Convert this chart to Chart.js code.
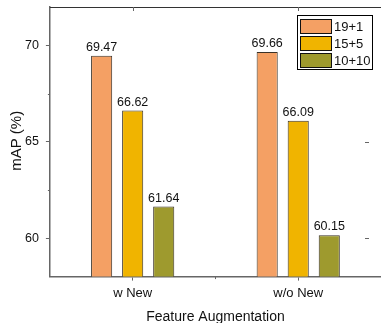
<!DOCTYPE html>
<html>
<head>
<meta charset="utf-8">
<script src="https://cdn.jsdelivr.net/npm/chart.js@4.4.0/dist/chart.umd.min.js"></script>
<style>
html,body{margin:0;padding:0;background:#fff;}
#wrap{width:381px;height:323px;position:relative;}
</style>
</head>
<body>
<div id="wrap"><canvas id="c" width="381" height="323"></canvas></div>
<script>
const categories = ['w New', 'w/o New'];
const seriesNames = ['19+1', '15+5', '10+10'];
const series19p1 = [69.47, 69.66];
const series15p5 = [66.62, 66.09];
const series10p10 = [61.64, 60.15];
const yTicks = [60, 65, 70];
const yMinorTicks = [62.5, 67.5];
const yTitle = 'mAP (%)';
const colors = ['#F4A064', '#F0B400', '#9E9A2E'];
const FONT = "'Liberation Sans', Arial, sans-serif";

const frame = {
  id: 'frame',
  afterDraw(chart) {
    const ctx = chart.ctx, a = chart.chartArea;
    const x = chart.scales.x, y = chart.scales.y;
    ctx.save();
    ctx.strokeStyle = '#333';
    ctx.lineWidth = 1.2;
    ctx.beginPath();
    ctx.moveTo(a.left, a.top + 0.5);
    ctx.lineTo(a.right, a.top + 0.5);
    ctx.stroke();
    ctx.strokeStyle = '#666';
    ctx.lineWidth = 1;
    ctx.beginPath();
    categories.forEach((c, i) => {
      const px = Math.round(x.getPixelForValue(i)) + 0.5;
      ctx.moveTo(px, a.top);
      ctx.lineTo(px, a.top + 4);
    });
    const mid = Math.round((x.getPixelForValue(0) + x.getPixelForValue(1)) / 2) + 0.5;
    ctx.moveTo(mid, a.bottom);
    ctx.lineTo(mid, a.bottom + 2.5);
    yMinorTicks.forEach(v => {
      const py = Math.round(y.getPixelForValue(v)) + 0.5;
      ctx.moveTo(a.left - 2, py);
      ctx.lineTo(a.left, py);
    });
    yTicks.forEach(v => {
      const py = Math.round(y.getPixelForValue(v)) + 0.5;
      ctx.moveTo(a.right - 16, py);
      ctx.lineTo(a.right - 12, py);
    });
    ctx.stroke();

    // y title
    ctx.save();
    ctx.translate(17, (a.top + a.bottom) / 2 - 1);
    ctx.rotate(-Math.PI / 2);
    ctx.fillStyle = '#111';
    ctx.font = '15px ' + FONT;
    ctx.textAlign = 'center';
    ctx.textBaseline = 'middle';
    ctx.fillText(yTitle, 0, 0);
    ctx.restore();

    ctx.fillStyle = '#111';
    ctx.font = '12.5px ' + FONT;
    ctx.textAlign = 'center';
    ctx.textBaseline = 'bottom';
    chart.data.datasets.forEach((ds, di) => {
      const meta = chart.getDatasetMeta(di);
      meta.data.forEach((bar, i) => {
        ctx.fillText(ds.data[i].toFixed(2), bar.x, bar.y - 2);
      });
    });

    const lx = 297, ly = 15, lw = 75, lh = 54;
    ctx.fillStyle = '#fff';
    ctx.fillRect(lx, ly, lw, lh);
    ctx.strokeStyle = '#000';
    ctx.lineWidth = 1;
    ctx.strokeRect(lx + 0.5, ly + 0.5, lw, lh);
    ctx.font = '13px ' + FONT;
    ctx.textAlign = 'left';
    ctx.textBaseline = 'middle';
    chart.data.datasets.forEach((ds, di) => {
      const ry = ly + 4 + di * 17;
      ctx.fillStyle = ds.backgroundColor;
      ctx.fillRect(lx + 3, ry, 31, 14);
      ctx.strokeStyle = '#111';
      ctx.strokeRect(lx + 3.5, ry + 0.5, 31, 14);
      ctx.fillStyle = '#111';
      ctx.fillText(ds.label, lx + 37, ry + 8);
    });
    ctx.restore();
  }
};

new Chart(document.getElementById('c'), {
  type: 'bar',
  data: {
    labels: categories,
    datasets: [
      { label: seriesNames[0], data: series19p1, backgroundColor: colors[0] },
      { label: seriesNames[1], data: series15p5, backgroundColor: colors[1] },
      { label: seriesNames[2], data: series10p10, backgroundColor: colors[2] }
    ].map(d => Object.assign(d, { borderColor: '#3a3228', borderWidth: 1, borderSkipped: false, categoryPercentage: 0.5625, barPercentage: 0.68 }))
  },
  options: {
    responsive: false,
    animation: false,
    devicePixelRatio: 1,
    layout: { padding: { top: 7, right: -4, left: 18, bottom: -3 } },
    plugins: { legend: { display: false }, tooltip: { enabled: false } },
    scales: {
      x: {
        offset: true,
        grid: { offset: false, drawOnChartArea: false, drawTicks: true, tickLength: 4, color: '#666' },
        border: { display: true, color: '#666', width: 1.5 },
        ticks: { color: '#111', font: { family: FONT, size: 13 }, padding: 5, maxRotation: 0 },
        title: { display: true, text: 'Feature Augmentation', color: '#111', font: { family: FONT, size: 14 }, padding: { top: 3, bottom: 0 } }
      },
      y: {
        min: 58, max: 72,
        afterBuildTicks: s => { s.ticks = yTicks.map(v => ({ value: v })); },
        afterFit: s => { s.paddingTop = 0; s.paddingBottom = 0; },
        grid: { drawOnChartArea: false, drawTicks: true, tickLength: 4, color: '#666' },
        border: { display: true, color: '#666', width: 1.5 },
        ticks: { color: '#111', font: { family: FONT, size: 12.5 }, padding: 7 },
        title: { display: false }
      }
    }
  },
  plugins: [frame]
});
</script>
</body>
</html>
